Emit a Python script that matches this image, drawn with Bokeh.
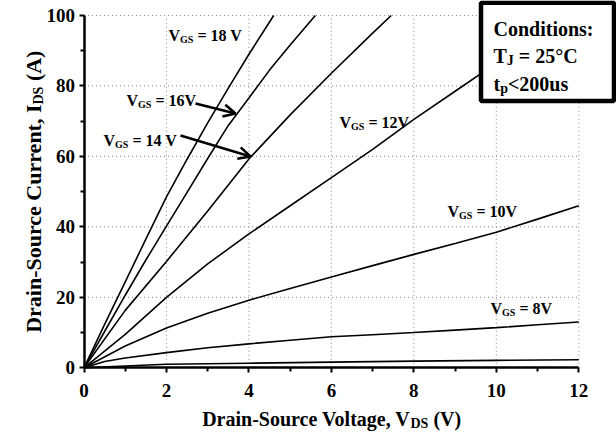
import math
from bokeh.plotting import figure
from bokeh.models import Range1d, FixedTicker, Label, Arrow, OpenHead, BoxAnnotation
from bokeh.embed import file_html
from bokeh.resources import INLINE

# ---- data ----
vds_18 = [0, 0.5, 1.0, 1.5, 2.0, 2.5, 3.0, 3.5, 4.0, 4.6]
ids_18 = [0, 12.3, 24.4, 36.5, 48.5, 59.2, 69.5, 79.4, 89.0, 100]

vds_16 = [0, 0.5, 1.0, 1.5, 2.0, 2.5, 3.0, 3.5, 4.0, 4.5, 5.0, 5.61]
ids_16 = [0, 10.3, 20.6, 30.6, 40.2, 49.8, 59.4, 68.8, 76.6, 84.5, 91.6, 100]

vds_14 = [0, 1, 2, 3, 4, 5, 6, 7, 7.45]
ids_14 = [0, 16.3, 30.2, 44.5, 59.3, 71.8, 83.6, 95.0, 100]

vds_12 = [0, 1, 2, 3, 4, 5, 6, 7, 8, 9, 10, 11.5]
ids_12 = [0, 9.5, 20.0, 29.5, 38.0, 46.0, 54.0, 62.0, 70.5, 78.5, 86.5, 100]

vds_10 = [0, 1, 2, 3, 4, 5, 6, 7, 8, 9, 10, 11, 12]
ids_10 = [0, 6.2, 11.3, 15.5, 19.2, 22.5, 25.8, 29.0, 32.2, 35.3, 38.5, 42.2, 46.0]

vds_8 = [0, 0.5, 1, 2, 3, 4, 5, 6, 7, 8, 9, 10, 11, 12]
ids_8 = [0, 1.8, 2.8, 4.3, 5.7, 6.8, 7.8, 8.8, 9.4, 10.0, 10.7, 11.4, 12.2, 13.0]

vds_6 = [0, 1, 2, 4, 6, 8, 10, 12]
ids_6 = [0, 0.5, 1.0, 1.3, 1.6, 1.9, 2.1, 2.3]

x_ticks = [0, 2, 4, 6, 8, 10, 12]
x_minor = [1, 3, 5, 7, 9, 11]
y_ticks = [0, 20, 40, 60, 80, 100]
y_minor = [10, 30, 50, 70, 90]

curve_labels = ["18 V", "16V", "14 V", "12V", "10V", "8V"]

FONT = "Liberation Serif"

# ---- layout: frame fills the canvas, axes fixed at 0 (page px == canvas px) ----
W_FIG, H_FIG = 616, 432
PX_X0, PX_X12 = 83.5, 578.3      # px of x=0 and x=12
PX_Y0, PX_Y100 = 367.3, 15.0     # px (from top) of y=0 and y=100
SX = (PX_X12 - PX_X0) / 12.0
SY = (PX_Y0 - PX_Y100) / 100.0
XMIN = -PX_X0 / SX
XMAX = XMIN + W_FIG / SX
YMAX = 100 + PX_Y100 / SY
YMIN = YMAX - H_FIG / SY


def px2x(px):
    return XMIN + px / SX


def py2y(py):
    return YMAX - py / SY


Wd = {'V': .722, 'G': .778, 'S': .556, 'D': .722, 'T': .667, 'J': .5, 't': .333,
      'p': .556, 'I': .389, ' ': .25, '=': .57, '(': .333, ')': .333, '<': .57,
      'u': .556, 's': .389, '°': .4, 'C': .722, 'A': .722}


def tw(s, size):
    return sum(Wd.get(c, .5) for c in s) * size


p = figure(width=W_FIG, height=H_FIG, output_backend="svg", toolbar_location=None,
           x_range=Range1d(XMIN, XMAX), y_range=Range1d(YMIN, YMAX), min_border=0)
p.outline_line_color = None
p.background_fill_color = "white"
p.border_fill_color = "white"
p.xgrid.visible = False
p.ygrid.visible = False

# dotted grid at the major ticks
gx = x_ticks[1:]
gy = y_ticks[1:]
p.segment(x0=gx, y0=[y_ticks[0]] * len(gx), x1=gx, y1=[y_ticks[-1]] * len(gx),
          line_color="#999999", line_dash="1 3", line_width=1.2)
p.segment(x0=[x_ticks[0]] * len(gy), y0=gy, x1=[x_ticks[-1]] * len(gy), y1=gy,
          line_color="#999999", line_dash="1 3", line_width=1.2)

for ax, tk, mn in ((p.xaxis, x_ticks, x_minor), (p.yaxis, y_ticks, y_minor)):
    ax.ticker = FixedTicker(ticks=tk, minor_ticks=mn)
    ax.fixed_location = 0
    ax.bounds = (tk[0], tk[-1])
    ax.axis_line_width = 2.5
    ax.axis_line_color = "black"
    ax.major_tick_line_width = 2
    ax.minor_tick_line_width = 2
    ax.major_tick_in = 0
    ax.major_tick_out = 5
    ax.minor_tick_in = 0
    ax.minor_tick_out = 4
    ax.major_label_text_font = FONT
    ax.major_label_text_font_style = "bold"
    ax.major_label_text_font_size = "19px"
    ax.major_label_text_color = "black"
p.xaxis.major_label_standoff = 11
p.yaxis.major_label_standoff = 4

for xs, ys in ((vds_18, ids_18), (vds_16, ids_16), (vds_14, ids_14), (vds_12, ids_12),
               (vds_10, ids_10), (vds_8, ids_8), (vds_6, ids_6)):
    p.line(xs, ys, line_color="black", line_width=1.6)


def lab(x, y, txt, size, xo, yo, align="left", angle=0.0):
    p.add_layout(Label(x=x, y=y, text=txt, x_offset=xo, y_offset=yo, angle=angle,
                       text_font=FONT, text_font_style="bold",
                       text_font_size=f"{size}px", text_color="black",
                       text_baseline="alphabetic", text_align=align))


def seq(px, py, parts):
    """Parts laid out left to right starting at (px, py)."""
    x, y = px2x(px), py2y(py)
    off = 0.0
    for txt, size, shift in parts:
        lead = len(txt) - len(txt.lstrip(" "))
        off += tw(" " * lead, size)
        txt = txt.lstrip(" ")
        lab(x, y, txt, size, off, shift)
        off += tw(txt, size)


def junction(px, py, head, hs, sub, ss, tail, ts, angle=0.0, shift=-5):
    """head ends at (px, py); subscript starts there; tail follows the subscript."""
    x, y = px2x(px), py2y(py)
    lead = len(tail) - len(tail.lstrip(" "))
    toff = tw(sub, ss) + tw(" " * lead, ts)
    if angle == 0:
        lab(x, y, head, hs, 0, 0, "right")
        lab(x, y, sub, ss, 0, shift)
        lab(x, y, tail.lstrip(" "), ts, toff, 0)
    else:
        lab(x, y, head, hs, 0, 0, "right", angle)
        lab(x, y, sub, ss, -shift, 0, "left", angle)
        lab(x, y, tail.lstrip(" "), ts, 0, toff, "left", angle)


# curve labels (px of the left edge / baseline)
label_pos = [(168, 35), (126, 100), (103, 140), (339, 122), (447, 211), (490, 308)]
for (lx, ly), t in zip(label_pos, curve_labels):
    seq(lx, ly, [("V", 16, 0), ("GS", 10, -4), (" = " + t, 16, 0)])

# arrows
for (xa, ya, xb, yb) in ((195, 103, 235, 113), (180, 135, 250, 156)):
    p.add_layout(Arrow(x_start=px2x(xa), y_start=py2y(ya), x_end=px2x(xb), y_end=py2y(yb),
                       line_width=2.5, line_color="black",
                       end=OpenHead(size=12, line_width=2.5, line_color="black")))

# axis titles
junction(410, 418, "Drain-Source Voltage, V", 20, "DS", 14, " (V)", 20)
junction(33, 104, "Drain-Source Current, I", 22, "DS", 14, " (A)", 22, angle=math.pi / 2)

# conditions box
p.add_layout(BoxAnnotation(left=px2x(480.5), right=px2x(613.5), bottom=py2y(100.5),
                           top=py2y(2.3), fill_color="white", fill_alpha=1.0,
                           line_color="black", line_alpha=1.0, line_width=4.5))
seq(493, 28, [("Conditions:", 20, 0)])
seq(493, 55, [("T", 20, 0), ("J", 14, -5), (" = 25°C", 20, 0)])
seq(493, 83, [("t", 20, 0), ("p", 14, -5), ("<200us", 20, 0)])

open("out.html", "w").write(file_html(p, INLINE))
